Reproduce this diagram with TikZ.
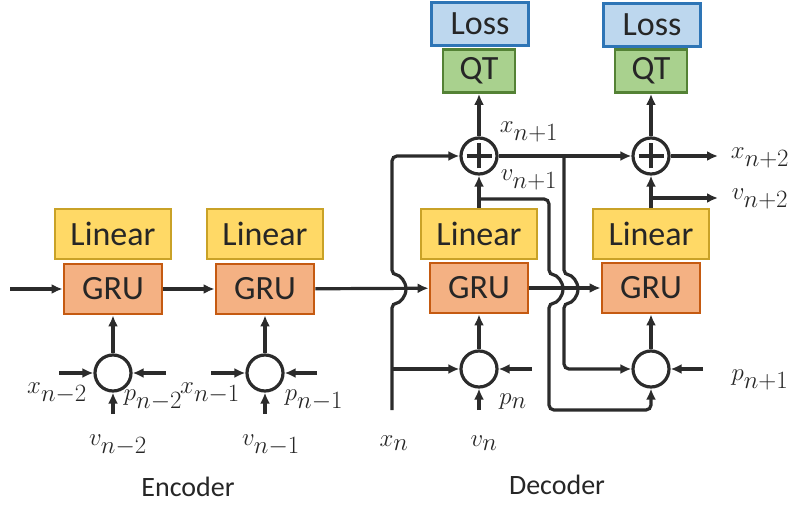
\documentclass[tikz,border=0pt]{standalone}
\usepackage{amsmath}
\usepackage{fontspec}
\setmainfont{Carlito}
\usepackage{tikz}
\usetikzlibrary{arrows.meta}

\definecolor{wire}{HTML}{2B2B2B}
\definecolor{linfill}{HTML}{FFD966}
\definecolor{linedge}{HTML}{C9A227}
\definecolor{grufill}{HTML}{F4B183}
\definecolor{gruedge}{HTML}{C55A11}
\definecolor{lossfill}{HTML}{BDD7EE}
\definecolor{lossedge}{HTML}{2E75B6}
\definecolor{qtfill}{HTML}{A9D18E}
\definecolor{qtedge}{HTML}{548235}

\begin{document}
\begin{tikzpicture}[x=1pt, y=-1pt, line width=3.2pt, color=wire, ->,
      >={Latex[length=11pt,width=10pt]},
      every node/.append style={text=black!85, inner sep=0pt},
      box/.style={draw, line width=2.8pt, minimum height=50pt, font=\fontsize{34}{36}\selectfont},
      lin/.style={box, fill=linfill, draw=linedge, minimum width=116pt},
      gru/.style={box, fill=grufill, draw=gruedge, minimum width=98pt},
      loss/.style={box, fill=lossfill, draw=lossedge, line width=3.2pt, minimum width=97pt, minimum height=43pt},
      qt/.style={box, fill=qtfill, draw=qtedge, minimum width=72pt, minimum height=43pt}]
    \tikzstyle{mix} = [draw, circle, minimum size=36pt, line width=3.2pt]
    \tikzstyle{sym} = [font=\fontsize{33}{35}\selectfont]
    \tikzstyle{caption} = [font=\fontsize{28}{30}\selectfont]
    \useasboundingbox (0,0) rectangle (792,505);

    \node [lin] (lin_a) at (113,234) {Linear};
    \node [gru] (gru_a) at (113,289) {GRU};
    \node [lin] (lin_b) at (265,234) {Linear};
    \node [gru] (gru_b) at (265,289) {GRU};
    \node [lin] (lin_c) at (479,234) {Linear};
    \node [gru] (gru_c) at (479,288) {GRU};
    \node [lin] (lin_d) at (651,234) {Linear};
    \node [gru] (gru_d) at (651,288) {GRU};
    \node [loss] (loss_a) at (480,24) {Loss};
    \node [qt] (qt_a) at (479,71) {QT};
    \node [loss] (loss_b) at (652,25) {Loss};
    \node [qt] (qt_b) at (651,71) {QT};

    \node [mix] (mix_a) at (113,373) {};
    \node [mix] (mix_b) at (265,373) {};
    \node [mix] (mix_c) at (479,369) {};
    \node [mix] (mix_d) at (651,369) {};
    \node [mix] (sum_a) at (479,156) {};
    \node [mix] (sum_b) at (651,156) {};
    \foreach \s in {sum_a,sum_b}
      \draw [-, line width=4pt] ([xshift=-12.5pt]\s.center) -- ([xshift=12.5pt]\s.center)
                                ([yshift=-12.5pt]\s.center) -- ([yshift=12.5pt]\s.center);

    \node [sym] (x_a) at (57,393) {$x_{n-2}$};
    \node [sym] (p_a) at (153,400) {$p_{n-2}$};
    \node [sym] (v_a) at (118,445) {$v_{n-2}$};
    \node [sym] (x_b) at (210,393) {$x_{n-1}$};
    \node [sym] (p_b) at (314,400) {$p_{n-1}$};
    \node [sym] (v_b) at (271,445) {$v_{n-1}$};
    \node [sym] (x_c) at (394,443) {$x_{n}$};
    \node [sym] (v_c) at (484,443) {$v_{n}$};
    \node [sym] (p_c) at (513,402) {$p_{n}$};
    \node [sym] (p_d) at (760,380) {$p_{n+1}$};
    \node [sym] (x_d) at (529,132) {$x_{n+1}$};
    \node [sym] (v_d) at (529,180) {$v_{n+1}$};
    \node [sym] (x_e) at (760,158) {$x_{n+2}$};
    \node [sym] (v_e) at (760,199) {$v_{n+2}$};
    \node [caption] (enc) at (188,487) {Encoder};
    \node [caption] (dec) at (557,485) {Decoder};

    \coordinate (h_in) at (10,289);
    \coordinate (xa_in) at (59,373);
    \coordinate (pa_in) at (166,373);
    \coordinate (va_in) at (113,414);
    \coordinate (xb_in) at (211,373);
    \coordinate (pb_in) at (317,373);
    \coordinate (vb_in) at (265,414);
    \coordinate (xn_bot) at (392,410);
    \coordinate (xn_tap) at (392,369);
    \coordinate (pc_in) at (532,369);
    \coordinate (vc_in) at (479,410);
    \coordinate (pd_in) at (703,369);
    \coordinate (v_tap) at (479,199);
    \coordinate (x_tap) at (564,156);
    \coordinate (x_out) at (718,156);
    \coordinate (v_src) at (651,198);
    \coordinate (v_out) at (718,198);

    \draw (h_in) -- (gru_a);
    \draw (gru_a) -- (gru_b);
    \draw (gru_b) -- (gru_c);
    \draw (gru_c) -- (gru_d);
    \draw (mix_a) -- (gru_a);
    \draw (mix_b) -- (gru_b);
    \draw (mix_c) -- (gru_c);
    \draw (mix_d) -- (gru_d);
    \draw (xa_in) -- (mix_a);
    \draw (pa_in) -- (mix_a);
    \draw (va_in) -- (mix_a);
    \draw (xb_in) -- (mix_b);
    \draw (pb_in) -- (mix_b);
    \draw (vb_in) -- (mix_b);
    \draw (pc_in) -- (mix_c);
    \draw (vc_in) -- (mix_c);
    \draw (pd_in) -- (mix_d);

    \draw [rounded corners=5pt] (xn_bot) -- (392,303) arc (90:-90:14) -- (392,156) -- (sum_a);
    \draw (xn_tap) -- (mix_c);
    \draw (lin_c.north) -- (sum_a);
    \draw [rounded corners=5pt] (v_tap) -- (549,199) -- (549,275) arc (-90:90:14) -- (549,410) -- (651,410) -- (mix_d);
    \draw (sum_a) -- (sum_b);
    \draw [rounded corners=5pt] (x_tap) -- (564,275) arc (-90:90:14) -- (564,369) -- (mix_d);
    \draw (lin_d.north) -- (sum_b);
    \draw (sum_b) -- (x_out);
    \draw (v_src) -- (v_out);
    \draw (sum_a) -- (qt_a);
    \draw (sum_b) -- (qt_b);
\end{tikzpicture}
\end{document}
